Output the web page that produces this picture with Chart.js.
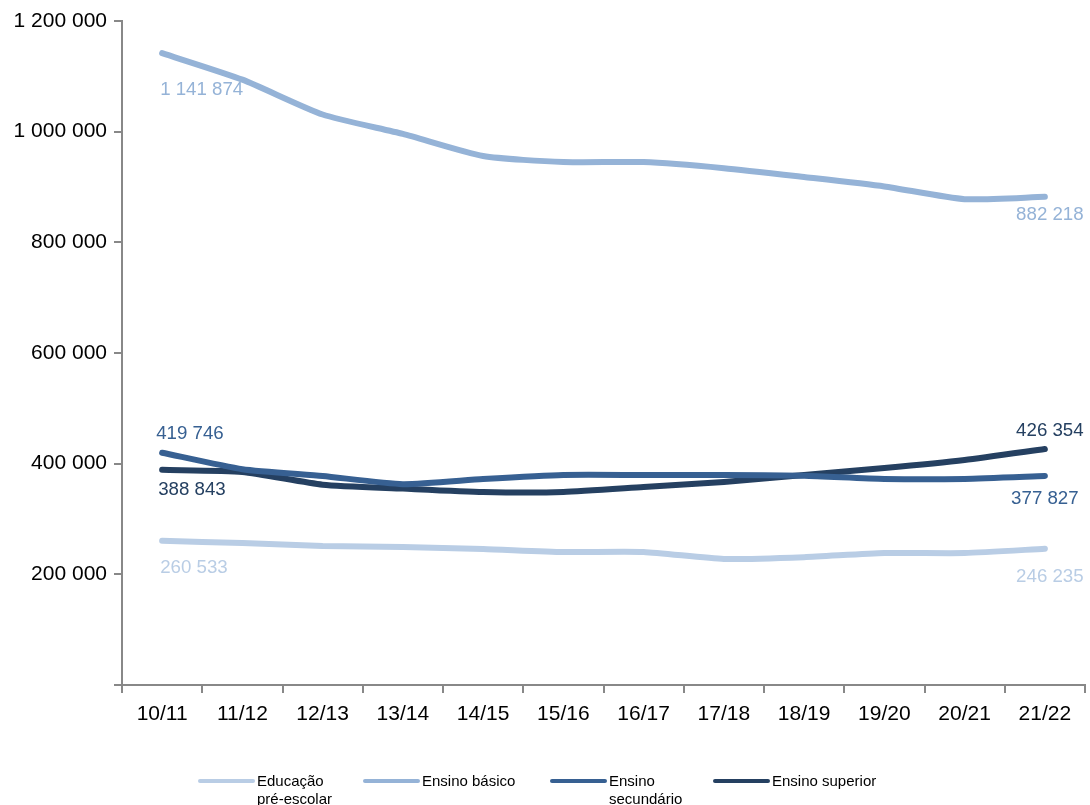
<!DOCTYPE html>
<html>
<head>
<meta charset="utf-8">
<script src="https://cdn.jsdelivr.net/npm/chart.js@4"></script>
<style>
  html, body { margin: 0; padding: 0; background: #fff; }
  #wrap { width: 1090px; height: 805px; position: relative; }
</style>
</head>
<body>
<div id="wrap"><canvas id="alunosChart" width="1090" height="805"></canvas></div>
<script>
// Anos letivos
const anos = ['10/11', '11/12', '12/13', '13/14', '14/15', '15/16', '16/17', '17/18', '18/19', '19/20', '20/21', '21/22'];

// Valores por nível de ensino (extremos, restantes estimados)
const preEscolar = [260533, 256600, 251000, 249500, 245800, 240400, 240400, 227700, 231000, 238500, 238500, 246235];
const basico = [1141874, 1094000, 1031000, 996000, 956000, 945000, 945000, 934000, 918000, 901000, 878000, 882218];
const secundario = [419746, 390000, 377700, 363000, 372300, 379500, 379500, 379500, 378000, 372500, 372500, 377827];
const superior = [388843, 385000, 362000, 355000, 348800, 348800, 357800, 366900, 379500, 392000, 406600, 426354];

const yTicks = [0, 200000, 400000, 600000, 800000, 1000000, 1200000];

const cores = ['#b9cde5', '#95b3d7', '#376092', '#254061'];
const nomes = [['Educação', 'pré-escolar'], ['Ensino básico'], ['Ensino', 'secundário'], ['Ensino superior']];

function fmt(v) {
    return String(v).replace(/\B(?=(\d{3})+(?!\d))/g, ' ');
}

// Rótulos dos valores no início e no fim de cada série
const rotulos = {
    id: 'rotulos',
    afterDatasetsDraw(chart) {
        const c = chart.ctx;
        // deslocamentos [dx, dy, align] para o primeiro e último ponto
        const desl = [
            [[-2, 27, 'left'], [5, 28, 'center']],
            [[-2, 37, 'left'], [5, 18, 'center']],
            [[-6, -19, 'left'], [0, 23, 'center']],
            [[-4, 20, 'left'], [5, -18, 'center']]
        ];
        c.save();
        c.font = '18.7px "Liberation Sans", Arial, sans-serif';
        c.textBaseline = 'middle';
        chart.data.datasets.forEach((ds, i) => {
            const pts = chart.getDatasetMeta(i).data;
            [0, pts.length - 1].forEach((idx, k) => {
                const p = pts[idx];
                const d = desl[i][k];
                c.fillStyle = cores[i];
                c.textAlign = d[2];
                c.fillText(fmt(ds.data[idx]), p.x + d[0], p.y + d[1]);
            });
        });
        c.restore();
    }
};

// Legenda desenhada à mão (rótulos em duas linhas)
const legenda = {
    id: 'legenda',
    afterDraw(chart) {
        const c = chart.ctx;
        const xs = [200, 365, 552, 715];
        const y = 781;
        c.save();
        c.font = '15px "Liberation Sans", Arial, sans-serif';
        c.textBaseline = 'middle';
        c.textAlign = 'left';
        xs.forEach((x, i) => {
            c.strokeStyle = cores[i];
            c.lineWidth = 4;
            c.lineCap = 'round';
            c.beginPath();
            c.moveTo(x, y);
            c.lineTo(x + 53, y);
            c.stroke();
            c.fillStyle = '#000';
            nomes[i].forEach((t, j) => c.fillText(t, x + 57, y + 1 + j * 18));
        });
        c.restore();
    }
};

const series = [preEscolar, basico, secundario, superior];

const ctx = document.getElementById('alunosChart').getContext('2d');
new Chart(ctx, {
    type: 'line',
    data: {
        labels: anos,
        datasets: series.map((d, i) => ({
            label: nomes[i].join(' '),
            data: d,
            borderColor: cores[i],
            backgroundColor: cores[i],
            borderWidth: 6,
            pointRadius: 0,
            tension: 0.2,
            borderCapStyle: 'round',
            borderJoinStyle: 'round'
        }))
    },
    options: {
        responsive: false,
        animation: false,
        layout: { padding: { top: 21, right: 5, left: 0, bottom: 0 } },
        plugins: {
            legend: { display: false },
            tooltip: { enabled: false }
        },
        scales: {
            x: {
                offset: true,
                grid: { offset: true, drawOnChartArea: false, tickLength: 8, color: '#888', lineWidth: 2 },
                border: { color: '#888', width: 2 },
                ticks: { color: '#000', font: { size: 21, family: '"Liberation Sans", Arial' }, padding: 9, maxRotation: 0 },
                afterFit(scale) { scale.height = 120; }
            },
            y: {
                min: 0,
                max: 1200000,
                afterBuildTicks(scale) { scale.ticks = yTicks.map(v => ({ value: v })); },
                grid: { drawOnChartArea: false, tickLength: 8, color: '#888', lineWidth: 2 },
                border: { color: '#888', width: 2 },
                ticks: {
                    color: '#000',
                    font: { size: 21, family: '"Liberation Sans", Arial' },
                    padding: 7,
                    callback: v => v === 0 ? '' : fmt(v)
                },
                afterFit(scale) { scale.width = 122; }
            }
        }
    },
    plugins: [rotulos, legenda]
});
</script>
</body>
</html>
